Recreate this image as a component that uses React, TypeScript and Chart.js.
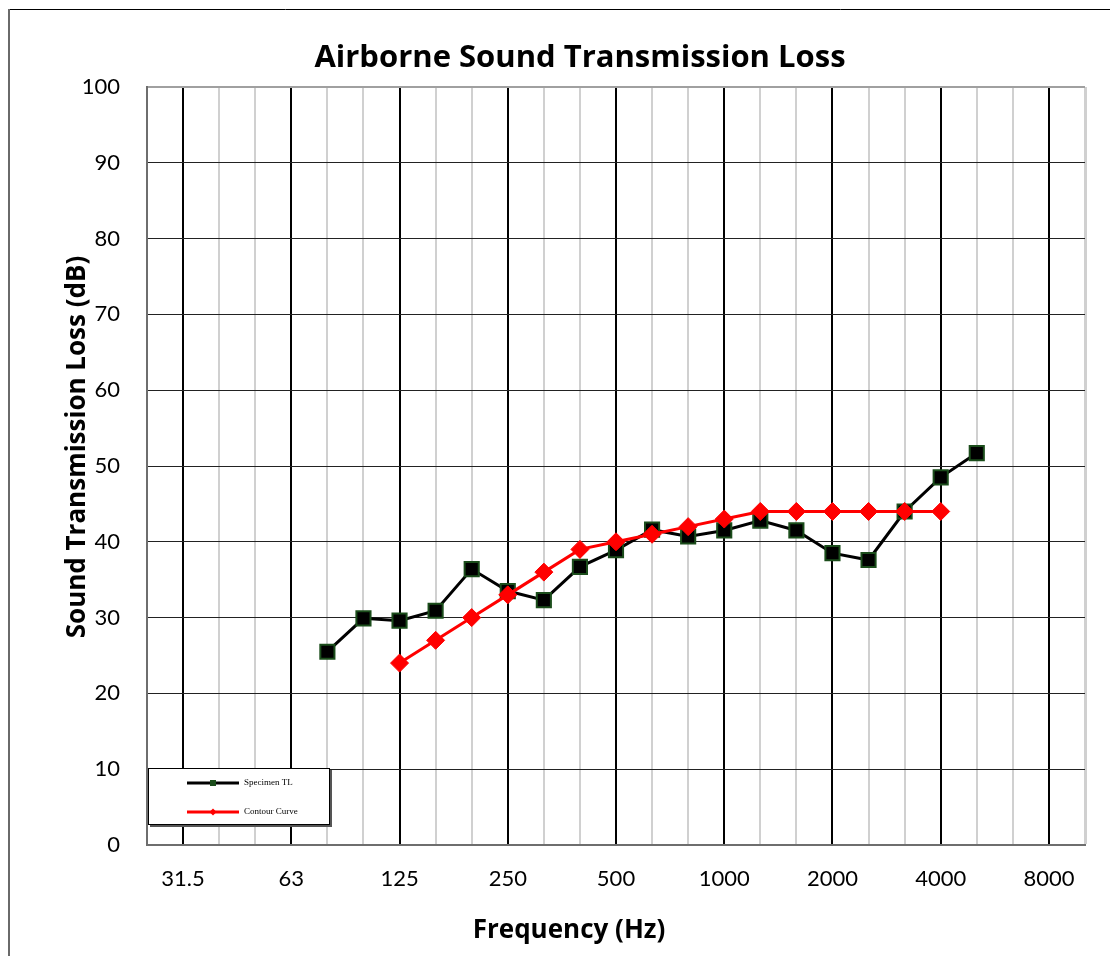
import React, { useEffect, useRef } from 'react';
import { Chart, registerables } from 'chart.js';

Chart.register(...registerables);

// One-third-octave band centre frequencies (Hz), 25 Hz .. 10 kHz
const frequencies = [
  '25', '31.5', '40', '50', '63', '80', '100', '125', '160', '200', '250', '315', '400', '500',
  '630', '800', '1000', '1250', '1600', '2000', '2500', '3150', '4000', '5000', '6300', '8000', '10000',
];

// Octave labels shown on the x axis
const octaveLabels = ['31.5', '63', '125', '250', '500', '1000', '2000', '4000', '8000'];

// Specimen transmission loss (dB)
const specimenTL = [
  null, null, null, null, null, 25.5, 29.9, 29.6, 30.9, 36.4, 33.5, 32.3, 36.7, 38.9,
  41.6, 40.7, 41.5, 42.8, 41.5, 38.5, 37.6, 44.0, 48.5, 51.7, null, null, null,
];

// STC contour curve (dB)
const contourCurve = [
  null, null, null, null, null, null, null, 24, 27, 30, 33, 36, 39, 40,
  41, 42, 43, 44, 44, 44, 44, 44, 44, null, null, null, null,
];

const yMin = 0;
const yMax = 100;
const yStep = 10;

const seriesNames = ['Specimen TL', 'Contour Curve'];
const chartTitle = 'Airborne Sound Transmission Loss';
const xTitle = 'Frequency (Hz)';
const yTitle = 'Sound Transmission Loss (dB)';

const W = 1110;
const H = 948;
const FONT = 'Lato, "Open Sans", sans-serif';
const TITLE_FONT = '"Open Sans", Lato, sans-serif';

export default function App() {
  const ref = useRef<HTMLCanvasElement>(null);

  useEffect(() => {
    if (!ref.current) return;

    const framePlugin = {
      id: 'frame',
      beforeDraw(chart: any) {
        const ctx = chart.ctx;
        ctx.save();
        ctx.fillStyle = '#fff';
        ctx.fillRect(0, 0, chart.width, chart.height);
        ctx.strokeStyle = '#000';
        ctx.lineWidth = 1;
        ctx.beginPath();
        ctx.moveTo(0, 1.5);
        ctx.lineTo(chart.width, 1.5);
        ctx.stroke();
        ctx.strokeStyle = '#6a6a6a';
        ctx.lineWidth = 2;
        ctx.beginPath();
        ctx.moveTo(1, 1);
        ctx.lineTo(1, chart.height);
        ctx.stroke();
        ctx.restore();
      },
    };

    const titlesPlugin = {
      id: 'titles',
      afterDraw(chart: any) {
        const ctx = chart.ctx;
        ctx.save();
        ctx.fillStyle = '#000';
        ctx.textAlign = 'center';
        ctx.textBaseline = 'middle';
        ctx.font = `bold 31px ${TITLE_FONT}`;
        ctx.fillText(chartTitle, 572, 50);
        ctx.font = `bold 26px ${TITLE_FONT}`;
        ctx.fillText(xTitle, 561, 923);
        ctx.translate(70, 439);
        ctx.rotate(-Math.PI / 2);
        ctx.font = `bold 26px ${TITLE_FONT}`;
        ctx.fillText(yTitle, 0, 0);
        ctx.restore();
      },
    };

    const legendPlugin = {
      id: 'legendBox',
      afterDraw(chart: any) {
        const ctx = chart.ctx;
        const x0 = chart.chartArea.left + 1;
        const y0 = 760;
        const w = 182;
        const h = 57;
        ctx.save();
        ctx.fillStyle = '#555';
        ctx.fillRect(x0 + 2, y0 + 2, w, h);
        ctx.fillStyle = '#fff';
        ctx.fillRect(x0, y0, w, h);
        ctx.strokeStyle = '#000';
        ctx.lineWidth = 1;
        ctx.strokeRect(x0 + 0.5, y0 + 0.5, w - 1, h - 1);

        const items = [
          { name: seriesNames[0], color: '#000', marker: '#1b4d1b', style: 'rect', y: y0 + 15 },
          { name: seriesNames[1], color: '#ff0000', marker: '#ff0000', style: 'diamond', y: y0 + 44 },
        ];
        items.forEach((it) => {
          ctx.strokeStyle = it.color;
          ctx.lineWidth = 3;
          ctx.beginPath();
          ctx.moveTo(x0 + 39, it.y);
          ctx.lineTo(x0 + 91, it.y);
          ctx.stroke();
          const cx = x0 + 65;
          ctx.fillStyle = it.marker;
          if (it.style === 'rect') {
            ctx.fillRect(cx - 3, it.y - 3, 6, 6);
          } else {
            ctx.beginPath();
            ctx.moveTo(cx, it.y - 3.5);
            ctx.lineTo(cx + 3.5, it.y);
            ctx.lineTo(cx, it.y + 3.5);
            ctx.lineTo(cx - 3.5, it.y);
            ctx.closePath();
            ctx.fill();
          }
          ctx.fillStyle = '#000';
          ctx.font = '9px "Liberation Serif", serif';
          ctx.textAlign = 'left';
          ctx.textBaseline = 'middle';
          ctx.fillText(it.name, x0 + 96, it.y);
        });
        ctx.restore();
      },
    };

    const chart = new Chart(ref.current, {
      type: 'line',
      data: {
        labels: frequencies,
        datasets: [
          {
            label: seriesNames[0],
            data: specimenTL,
            borderColor: '#000',
            borderWidth: 3,
            pointStyle: 'rect',
            pointRadius: 10,
            pointBackgroundColor: '#000',
            pointBorderColor: '#1b4d1b',
            pointBorderWidth: 2,
            spanGaps: false,
            order: 2,
          },
          {
            label: seriesNames[1],
            data: contourCurve,
            borderColor: '#ff0000',
            borderWidth: 3,
            pointStyle: 'rectRot',
            pointRadius: 9,
            pointBackgroundColor: '#ff0000',
            pointBorderColor: '#ff0000',
            pointBorderWidth: 1,
            spanGaps: false,
            order: 1,
          },
        ],
      },
      options: {
        responsive: false,
        animation: false,
        events: [],
        layout: { padding: { left: 56, right: 33, top: 79, bottom: 0 } },
        plugins: {
          legend: { display: false },
          tooltip: { enabled: false },
          title: { display: false },
        },
        scales: {
          x: {
            type: 'category',
            offset: false,
            grid: {
              drawTicks: false,
              color: (c: any) => (octaveLabels.includes(frequencies[c.index]) ? '#000' : '#d0d0d0'),
              lineWidth: (c: any) => (c.index === frequencies.length - 1 ? 3 : 2),
            },
            border: { color: '#6e6e6e', width: 2 },
            ticks: {
              autoSkip: false,
              maxRotation: 0,
              minRotation: 0,
              padding: 21,
              color: '#000',
              font: { family: FONT, size: 22 },
              callback: (_v: any, i: number) => (octaveLabels.includes(frequencies[i]) ? frequencies[i] : ''),
            },
            afterFit: (s: any) => {
              s.height = 111;
            },
          },
          y: {
            min: yMin,
            max: yMax,
            grid: {
              drawTicks: false,
              color: (c: any) => (c.tick && c.tick.value === yMax ? '#a0a0a0' : '#222'),
              lineWidth: (c: any) => (c.tick && c.tick.value === yMax ? 2 : 1),
            },
            border: { color: '#6e6e6e', width: 2 },
            ticks: {
              stepSize: yStep,
              padding: 27,
              color: '#000',
              font: { family: FONT, size: 22 },
            },
            afterFit: (s: any) => {
              s.width = 83;
            },
          },
        },
      },
      plugins: [framePlugin, legendPlugin, titlesPlugin],
    } as any);

    return () => chart.destroy();
  }, []);

  return <canvas ref={ref} width={W} height={H} style={{ display: 'block' }} />;
}
